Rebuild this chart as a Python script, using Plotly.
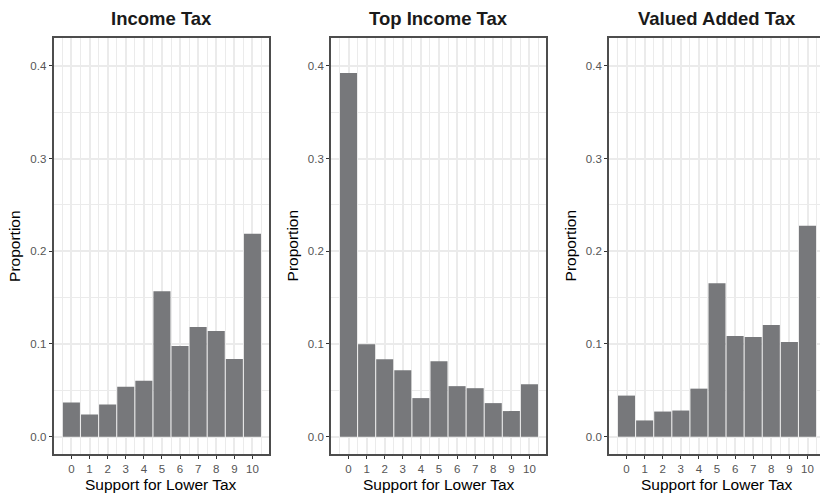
import plotly.graph_objects as go

# Survey responses: share of respondents at each point of the 0-10 scale
support_levels = list(range(11))
tick_labels = [str(v) for v in support_levels]

income_tax = [0.0368, 0.0239, 0.0346, 0.0539, 0.0604, 0.1568, 0.0979, 0.1182, 0.1139, 0.0839, 0.2189]
top_income_tax = [0.3922, 0.0996, 0.0835, 0.0717, 0.0416, 0.0814, 0.0545, 0.0523, 0.0362, 0.0276, 0.0566]
value_added_tax = [0.0443, 0.0175, 0.0271, 0.0282, 0.0518, 0.1654, 0.1086, 0.1075, 0.1204, 0.1021, 0.2275]

panel_titles = ["Income Tax", "Top Income Tax", "Valued Added Tax"]
x_title = "Support for Lower Tax"
y_title = "Proportion"
y_ticks = [0.0, 0.1, 0.2, 0.3, 0.4]
y_tick_text = ["0.0", "0.1", "0.2", "0.3", "0.4"]

W, H = 820, 495
FONT = "Liberation Sans, Arial, Helvetica, sans-serif"
BAR = "#77787b"
GRID = "#ebebeb"
BORDER = "#4d4d4d"
TICKTXT = "#555555"

# Panel placement in pixels (left, right) and x data ranges
panels = [
    dict(px=(53.5, 269.3), xr=(-0.99, 10.93), center=161.4, mirror_right=True),
    dict(px=(331.0, 546.3), xr=(-0.967, 10.93), center=438.7, mirror_right=True),
    dict(px=(609.0, 820.0), xr=(-0.967, 10.69), center=716.5, mirror_right=False),
]
y_px = (37.7, 454.0)
y_range = (-0.0187, 0.4304)
series = [income_tax, top_income_tax, value_added_tax]

fig = go.Figure()
annotations = []
for i, (p, vals, title) in enumerate(zip(panels, series, panel_titles), start=1):
    xa = "x" if i == 1 else f"x{i}"
    ya = "y" if i == 1 else f"y{i}"
    fig.add_trace(go.Bar(
        x=support_levels, y=vals, xaxis=xa, yaxis=ya,
        marker=dict(color=BAR, line=dict(width=0)),
        showlegend=False, hoverinfo="x+y",
    ))
    xkey = "xaxis" if i == 1 else f"xaxis{i}"
    ykey = "yaxis" if i == 1 else f"yaxis{i}"
    fig.update_layout(**{
        xkey: dict(
            domain=[p["px"][0] / W, p["px"][1] / W],
            anchor=ya, range=list(p["xr"]),
            tickmode="array", tickvals=support_levels, ticktext=tick_labels,
            ticks="outside", ticklen=3, tickwidth=1.2, tickcolor="#333333",
            tickfont=dict(family=FONT, size=11.5, color=TICKTXT),
            showgrid=True, gridcolor=GRID, gridwidth=2,
            minor=dict(tickmode="linear", tick0=0.5, dtick=1, showgrid=True,
                       gridcolor=GRID, gridwidth=1, ticks=""),
            showline=True, linecolor=BORDER, linewidth=1.8, mirror=True,
            zeroline=False, fixedrange=True,
        ),
        ykey: dict(
            domain=[1 - y_px[1] / H, 1 - y_px[0] / H],
            anchor=xa, range=list(y_range),
            tickmode="array", tickvals=y_ticks, ticktext=y_tick_text,
            ticks="outside", ticklen=3, tickwidth=1.2, tickcolor="#333333",
            tickfont=dict(family=FONT, size=11.5, color=TICKTXT),
            showgrid=True, gridcolor=GRID, gridwidth=2,
            minor=dict(tickmode="linear", tick0=0.05, dtick=0.1, showgrid=True,
                       gridcolor=GRID, gridwidth=1, ticks=""),
            showline=True, linecolor=BORDER, linewidth=1.8,
            mirror=True if p["mirror_right"] else False,
            zeroline=False, fixedrange=True,
        ),
    })
    # panel title
    annotations.append(dict(
        text=f"<b>{title}</b>", xref="paper", yref="paper",
        x=p["center"] / W, y=1 - 18.5 / H, xanchor="center", yanchor="middle",
        showarrow=False, font=dict(family=FONT, size=18.5, color="#1a1a1a"),
    ))
    # x axis title
    annotations.append(dict(
        text=x_title, xref="paper", yref="paper",
        x=p["center"] / W, y=1 - 484.5 / H, xanchor="center", yanchor="middle",
        showarrow=False, font=dict(family=FONT, size=15.5, color="#000000"),
    ))
    # y axis title
    annotations.append(dict(
        text=y_title, xref="paper", yref="paper", textangle=-90,
        x=(p["px"][0] - 38.5) / W, y=1 - 245.9 / H, xanchor="center", yanchor="middle",
        showarrow=False, font=dict(family=FONT, size=15.5, color="#000000"),
    ))

fig.update_layout(
    width=W, height=H,
    margin=dict(l=0, r=0, t=0, b=0),
    paper_bgcolor="white", plot_bgcolor="white",
    bargap=0.06,
    annotations=annotations,
)

fig.write_html("out.html")
